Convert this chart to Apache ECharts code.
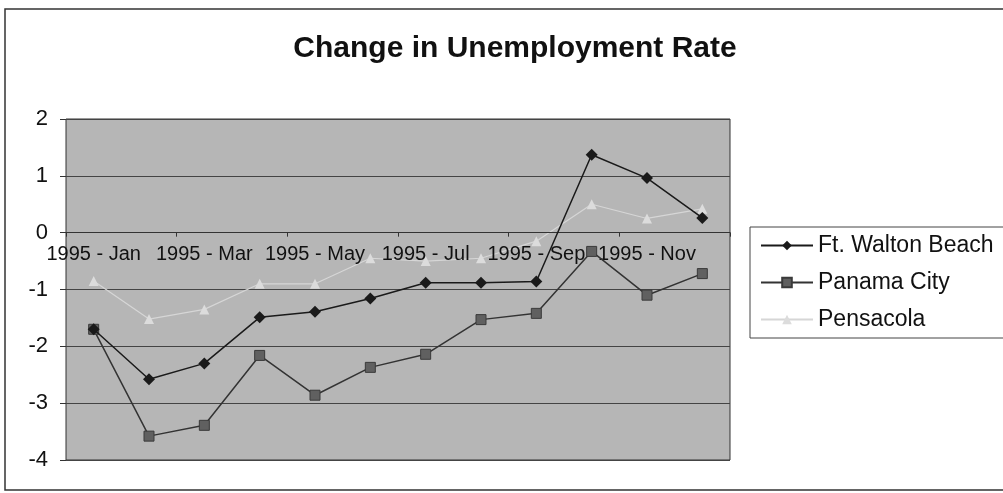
<!DOCTYPE html>
<html>
<head>
<meta charset="utf-8">
<script src="https://cdn.jsdelivr.net/npm/echarts@6/dist/echarts.min.js"></script>
<style>
    html, body {
        margin: 0;
        padding: 0;
        background: #fff;
    }
    #charts {
        width: 1003px;
        height: 493px;
    }
</style>
</head>
<body>
<div id="charts"></div>
<script>

    // 月份（类目）
    var months = [
        '1995 - Jan', '1995 - Feb', '1995 - Mar', '1995 - Apr',
        '1995 - May', '1995 - Jun', '1995 - Jul', '1995 - Aug',
        '1995 - Sep', '1995 - Oct', '1995 - Nov', '1995 - Dec'
    ];

    // 各城市失业率变化
    var ftWalton = [-1.7, -2.58, -2.3, -1.49, -1.39, -1.16, -0.88, -0.88, -0.86, 1.37, 0.96, 0.26];
    var panamaCity = [-1.7, -3.58, -3.39, -2.16, -2.86, -2.37, -2.14, -1.53, -1.42, -0.33, -1.1, -0.72];
    var pensacola = [-0.85, -1.52, -1.35, -0.9, -0.9, -0.45, -0.5, -0.45, -0.15, 0.5, 0.25, 0.42];

    var yTicks = [-4, -3, -2, -1, 0, 1, 2];

    var font = 'Liberation Sans, Arial, sans-serif';

    var gridTop = 119;
    var gridBottom = 33;
    var gridHeight = 493 - gridTop - gridBottom;

    var chart = echarts.init(document.getElementById('charts'));

    // x 轴贴在 0 刻度线上
    var zeroOffset = -gridHeight * (0 - yTicks[0]) / (yTicks[yTicks.length - 1] - yTicks[0]);

    var option = {
        backgroundColor: '#fff',
        animation: false,
        title: {
            text: 'Change in Unemployment Rate',
            left: 510,
            textAlign: 'center',
            top: 29,
            textStyle: {
                fontFamily: font,
                fontSize: 30,
                fontWeight: 'bold',
                color: '#111'
            }
        },
        graphic: [
            {
                type: 'rect',
                shape: {x: 5, y: 9, width: 1010, height: 481},
                style: {fill: 'none', stroke: '#333', lineWidth: 1.5},
                silent: true
            }
        ],
        grid: {
            left: 66,
            right: 273,
            top: gridTop,
            bottom: gridBottom,
            show: true,
            backgroundColor: '#b6b6b6',
            borderColor: '#333',
            borderWidth: 1
        },
        legend: {
            orient: 'vertical',
            left: 750,
            top: 227,
            padding: [7, 30, 7, 10],
            itemGap: 14,
            itemWidth: 52,
            itemHeight: 12,
            backgroundColor: '#fff',
            borderColor: '#444',
            borderWidth: 1,
            borderRadius: 0,
            textStyle: {
                fontFamily: font,
                fontSize: 23,
                color: '#111',
                padding: [0, 0, 0, 0]
            },
            data: ['Ft. Walton Beach', 'Panama City', 'Pensacola']
        },
        xAxis: {
            type: 'category',
            data: months,
            boundaryGap: true,
            offset: zeroOffset,
            z: 2,
            axisLine: {onZero: false, lineStyle: {color: '#333'}},
            axisTick: {show: true, length: 4, lineStyle: {color: '#333'}},
            axisLabel: {
                interval: 1,
                margin: 12,
                fontFamily: font,
                fontSize: 20,
                color: '#111'
            },
            splitLine: {show: false}
        },
        yAxis: {
            type: 'value',
            min: yTicks[0],
            max: yTicks[yTicks.length - 1],
            interval: 1,
            axisLine: {show: false},
            axisTick: {show: true, length: 6, lineStyle: {color: '#333'}},
            axisLabel: {
                margin: 18,
                fontFamily: font,
                fontSize: 22,
                color: '#111'
            },
            splitLine: {lineStyle: {color: '#444', width: 1}}
        },
        series: [
            {
                name: 'Ft. Walton Beach',
                type: 'line',
                data: ftWalton,
                symbol: 'diamond',
                symbolSize: 12,
                lineStyle: {color: '#1a1a1a', width: 1.5},
                itemStyle: {color: '#1a1a1a'},
                z: 4
            },
            {
                name: 'Panama City',
                type: 'line',
                data: panamaCity,
                symbol: 'rect',
                symbolSize: 10,
                lineStyle: {color: '#333', width: 1.5},
                itemStyle: {color: '#606060', borderColor: '#3a3a3a', borderWidth: 1},
                z: 3
            },
            {
                name: 'Pensacola',
                type: 'line',
                data: pensacola,
                symbol: 'triangle',
                symbolSize: 10,
                lineStyle: {color: '#d6d6d6', width: 1.2},
                itemStyle: {color: '#dcdcdc'},
                z: 1
            }
        ]
    };

    chart.setOption(option);

</script>
</body>
</html>
